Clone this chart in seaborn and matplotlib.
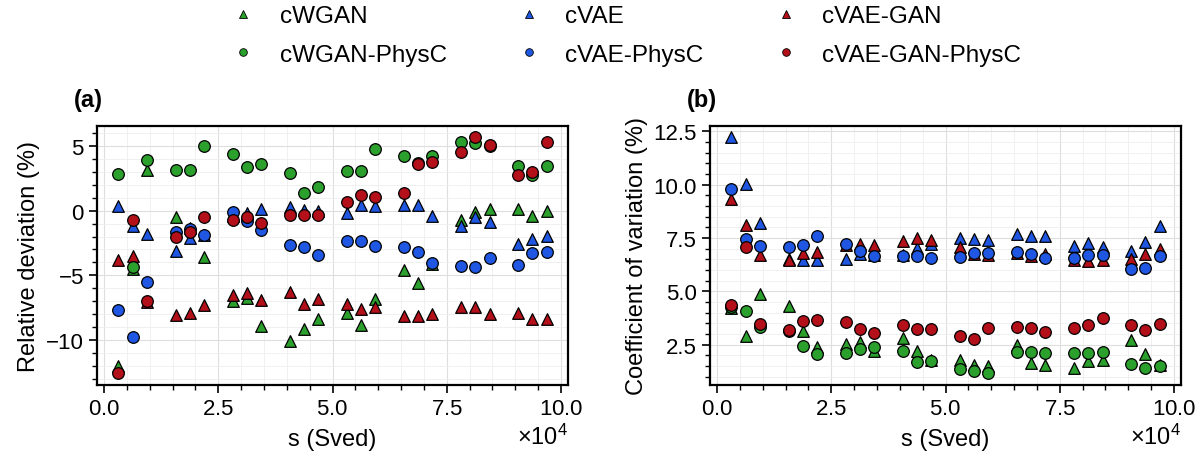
import numpy as np
import pandas as pd
import matplotlib
matplotlib.use("Agg")
import matplotlib.pyplot as plt
from matplotlib.ticker import MultipleLocator, ScalarFormatter
from matplotlib.lines import Line2D
import seaborn as sns

# ---------------- data ----------------
s_vals = [3125, 6250, 9375, 15625, 18750, 21875, 28125, 31250, 34375,
          40625, 43750, 46875, 53125, 56250, 59375, 65625, 68750, 71875,
          78125, 81250, 84375, 90625, 93750, 96875]

models = ["cWGAN", "cVAE", "cVAE-GAN", "cWGAN-PhysC", "cVAE-PhysC", "cVAE-GAN-PhysC"]

# (a) relative deviation (%)
rd_cwgan = [-12.05, -4.5, 3.17, -0.52, -1.3, -3.59, -6.97, -6.76, -8.95, -10.06, -9.16, -8.34,
            -7.92, -8.83, -6.81, -4.57, -5.6, -4.1, -0.7, -0.13, 0.13, 0.15, -0.44, 0.0]
rd_cvae = [0.34, -1.2, -1.78, -3.1, -2.1, -1.9, -0.4, -0.18, 0.13, 0.26, 0.08, 0.0,
           -0.18, 0.46, 0.39, 0.41, 0.41, -0.39, -1.16, -0.52, -0.9, -2.58, -2.19, -1.96]
rd_cvaegan = [-3.8, -3.48, -7.1, -8.05, -7.92, -7.28, -6.5, -6.37, -6.89, -6.3, -7.2, -6.84,
              -7.23, -7.61, -7.41, -8.13, -8.18, -8.0, -7.41, -7.48, -8.0, -7.92, -8.39, -8.39]
rd_cwgan_p = [2.84, -4.39, 3.9, 3.15, 3.15, 4.98, 4.39, 3.35, 3.61, 2.89, 1.34, 1.83,
              3.1, 3.1, 4.77, 4.2, 3.7, 4.26, 5.34, 5.24, 4.98, 3.43, 2.79, 3.46]
rd_cvae_p = [-7.66, -9.75, -5.55, -1.65, -1.45, -1.88, -0.13, -0.77, -1.5, -2.63, -2.79, -3.41,
             -2.35, -2.35, -2.74, -2.79, -3.23, -4.05, -4.26, -4.34, -3.64, -4.21, -3.25, -3.2]
rd_cvaegan_p = [-12.57, -0.72, -7.0, -2.04, -1.68, -0.52, -0.72, -0.49, -0.95, -0.31, -0.34, -0.31,
                0.7, 1.21, 1.08, 1.34, 3.64, 3.77, 4.54, 5.68, 5.06, 2.79, 2.99, 5.32]

# (b) coefficient of variation (%)
cv_cwgan = [4.2, 2.89, 4.86, 4.31, 3.16, 2.37, 2.53, 2.61, 2.2, 2.81, 2.22, 1.8,
            1.76, 1.53, 1.48, 2.48, 1.64, 1.53, 1.4, 1.73, 1.76, 2.74, 2.06, 1.56]
cv_cvae = [12.22, 10.02, 8.19, 6.5, 6.48, 6.46, 6.51, 6.75, 6.7, 6.7, 7.01, 7.22,
           7.5, 7.45, 7.42, 7.67, 7.58, 7.61, 7.12, 7.26, 7.08, 6.9, 7.3, 8.05]
cv_cvaegan = [9.34, 8.1, 6.7, 6.49, 6.78, 6.82, 7.17, 7.2, 7.19, 7.36, 7.5, 7.42,
              7.06, 6.76, 6.71, 6.78, 6.67, 6.73, 6.48, 6.43, 6.45, 6.51, 6.75, 6.98]
cv_cwgan_p = [4.25, 4.09, 3.33, 3.15, 2.45, 2.08, 2.1, 2.3, 2.37, 2.22, 1.67, 1.73,
              1.37, 1.24, 1.16, 2.14, 2.17, 2.11, 2.11, 2.11, 2.17, 1.6, 1.4, 1.51]
cv_cvae_p = [9.78, 7.47, 7.14, 7.09, 7.17, 7.58, 7.2, 6.9, 6.65, 6.65, 6.65, 6.56,
             6.6, 6.78, 6.78, 6.86, 6.73, 6.57, 6.57, 6.71, 6.68, 6.04, 6.1, 6.64]
cv_cvaegan_p = [4.36, 7.09, 3.46, 3.19, 3.63, 3.66, 3.55, 3.21, 3.03, 3.4, 3.21, 3.21,
                2.89, 2.78, 3.29, 3.32, 3.27, 3.11, 3.27, 3.43, 3.73, 3.41, 3.18, 3.49]

# ---------------- style ----------------
sns.set_style("ticks")
plt.rcParams['font.family'] = ['Liberation Sans', 'DejaVu Sans']
plt.rcParams['mathtext.fontset'] = 'custom'
plt.rcParams['mathtext.rm'] = 'Liberation Sans'
plt.rcParams['mathtext.it'] = 'Liberation Sans:italic'
plt.rcParams['axes.unicode_minus'] = True
for key in ['text.color', 'axes.labelcolor', 'xtick.color', 'ytick.color', 'axes.edgecolor']:
    plt.rcParams[key] = 'black'

colors = {"cWGAN": "#2ca02c", "cVAE": "#1f57e3", "cVAE-GAN": "#b3101a",
          "cWGAN-PhysC": "#2ca02c", "cVAE-PhysC": "#1f57e3", "cVAE-GAN-PhysC": "#b3101a"}
markers = {"cWGAN": "^", "cVAE": "^", "cVAE-GAN": "^",
           "cWGAN-PhysC": "o", "cVAE-PhysC": "o", "cVAE-GAN-PhysC": "o"}

def long_df(series):
    rows = []
    for m, vals in zip(models, series):
        for s, v in zip(s_vals, vals):
            rows.append((s, v, m))
    return pd.DataFrame(rows, columns=["s", "value", "model"])

df_a = long_df([rd_cwgan, rd_cvae, rd_cvaegan, rd_cwgan_p, rd_cvae_p, rd_cvaegan_p])
df_b = long_df([cv_cwgan, cv_cvae, cv_cvaegan, cv_cwgan_p, cv_cvae_p, cv_cvaegan_p])

W, H = 1203, 452
fig = plt.figure(figsize=(W / 100, H / 100), dpi=100)
bottom = 1 - 386 / H
height = (386 - 126.5) / H
ax_a = fig.add_axes([97 / W, bottom, 471 / W, height])
ax_b = fig.add_axes([710 / W, bottom, 471 / W, height])

FS_TICK = 16
FS_LABEL = 17
FS_LEG = 17.5

def draw(ax, df, ylabel, ymaj, ymin, tag):
    for m in models:
        sub = df[df["model"] == m]
        sns.scatterplot(data=sub, x="s", y="value", ax=ax, color=colors[m],
                        marker=markers[m], s=70, edgecolor="black",
                        linewidth=0.9, legend=False, zorder=3)
    ax.set_xlabel("s (Sved)", fontsize=FS_LABEL, labelpad=6)
    ax.set_ylabel(ylabel, fontsize=FS_LABEL, labelpad=4)
    ax.xaxis.set_major_locator(MultipleLocator(25000))
    ax.xaxis.set_minor_locator(MultipleLocator(5000))
    ax.yaxis.set_major_locator(MultipleLocator(ymaj))
    ax.yaxis.set_minor_locator(MultipleLocator(ymin))
    fmt = ScalarFormatter(useMathText=True)
    fmt.set_powerlimits((4, 4))
    ax.xaxis.set_major_formatter(fmt)
    ax.xaxis.get_offset_text().set_fontsize(17)
    ax.tick_params(axis="both", which="major", labelsize=FS_TICK, direction="out",
                   length=6, width=1.2, color="black", labelcolor="black")
    ax.tick_params(axis="both", which="minor", direction="out",
                   length=3.5, width=1.0, color="black")
    ax.grid(which="major", color="#dedede", linewidth=0.8)
    ax.grid(which="minor", color="#eeeeee", linewidth=0.6)
    ax.set_axisbelow(True)
    for sp in ax.spines.values():
        sp.set_visible(True)
        sp.set_linewidth(1.6)
        sp.set_color("black")
    ax.text(-0.05, 1.1, tag, transform=ax.transAxes, fontsize=FS_LABEL,
            fontweight="bold", ha="left", va="center")

draw(ax_a, df_a, "Relative deviation (%)", 5, 1, "(a)")
draw(ax_b, df_b, "Coefficient of variation (%)", 2.5, 0.5, "(b)")

# legend: rows = base model / PhysC variant, columns = model family
leg_order = ["cWGAN", "cWGAN-PhysC", "cVAE", "cVAE-PhysC", "cVAE-GAN", "cVAE-GAN-PhysC"]
handles = [Line2D([0], [0], linestyle="none", marker=markers[m], color=colors[m],
                  markeredgecolor="black", markeredgewidth=0.6, markersize=5.5)
           for m in leg_order]
fig.legend(handles, leg_order, ncol=3, loc="upper left",
           bbox_to_anchor=(219 / W, 1 - 6 / H), frameon=False, fontsize=FS_LEG,
           borderpad=0, borderaxespad=0, handlelength=2.0, handletextpad=0.5,
           columnspacing=2.38, labelspacing=0.68)

fig.savefig("out.png", dpi=100)
